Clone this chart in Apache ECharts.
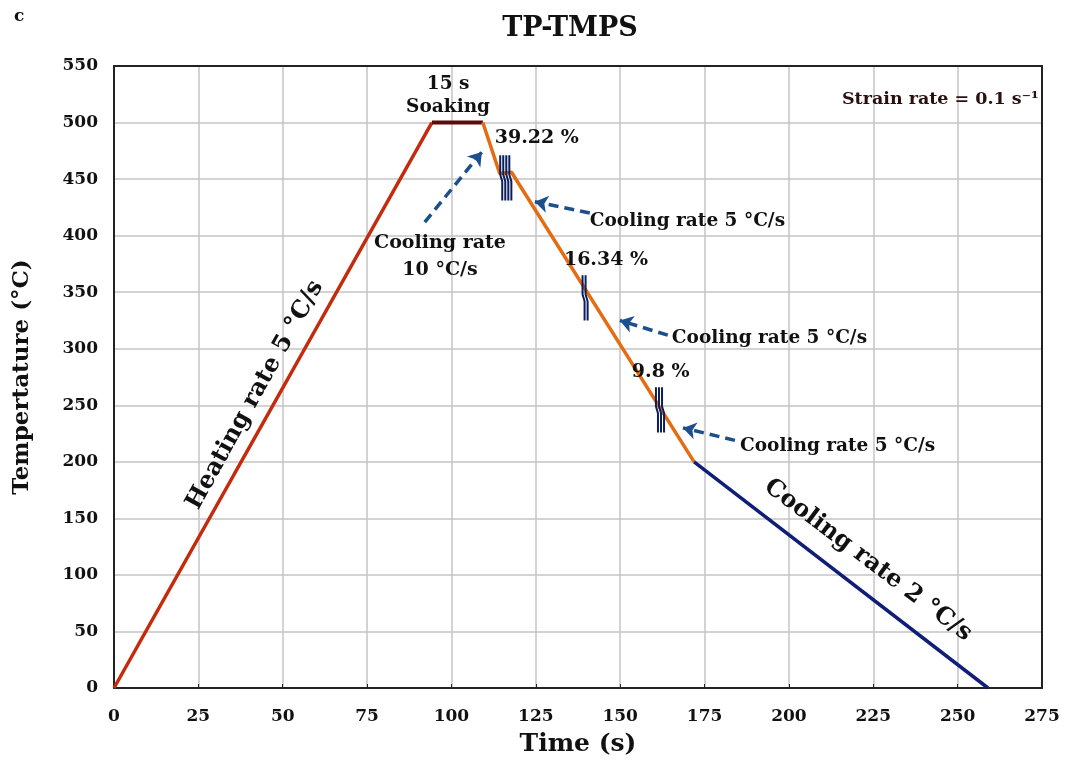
<!DOCTYPE html>
<html>
<head>
<meta charset="utf-8">
<script src="https://cdn.jsdelivr.net/npm/echarts@6/dist/echarts.min.js"></script>
<style>
html,body{margin:0;padding:0;background:#fff;}
#main{width:1070px;height:767px;}
</style>
</head>
<body>
<div id="main"></div>
<script>
// ---- data ----
var xTicks = [0,25,50,75,100,125,150,175,200,225,250,275];
var yTicks = [0,50,100,150,200,250,300,350,400,450,500,550];
var heating = [[0,0],[94.2,500]];
var soaking = [[94.2,500],[109.3,500]];
var coolingFast = [[109.3,500],[114.3,455],[117.8,456],[171.9,200]];
var coolingSlow = [[171.9,200],[259,0]];
// deformation steps: position (s, °C), number of strokes, label
var defX = [116.1, 139.6, 161.8];
var defY = [451, 345, 246];
var defStrokes = [4, 2, 3];
var defLabels = ['39.22 %', '16.34 %', '9.8 %'];
var defLabelX = [125.3, 145.8, 162];
var defLabelY = [486, 378.4, 279.4];
// arrows: tail -> head
var arrowTail = [[92.1,412],[141,420],[164.1,312],[184,219]];
var arrowHead = [[109,474],[124.7,430],[149.9,325],[168.6,230]];
// annotation texts
var noteText = ['15 s','Soaking','Cooling rate\n10 °C/s','Cooling rate 5 °C/s','Cooling rate 5 °C/s','Cooling rate 5 °C/s','Strain rate = 0.1 s\u207B\u00B9'];
var noteX = [99, 99, 96.6, 141, 165.3, 185.5, 274];
var noteY = [534, 514, 381.6, 413, 309.5, 214, 520];
var rateText = ['Heating rate 5 °C/s','Cooling rate 2 °C/s'];
var rateX = [41.8, 223.4];
var rateY = [259, 113];

var FONT = '"DejaVu Serif", Georgia, serif';
var INK = '#111111';

// build stroke paths for deformation marks
var markData = [];
for (var i=0;i<defX.length;i++){
  var n = defStrokes[i], dx = 0.9;
  for (var k=0;k<n;k++){
    var xi = defX[i] + (k-(n-1)/2)*dx - 0.3;
    markData.push([xi, defY[i]+20]);
    markData.push([xi, defY[i]+3]);
    markData.push([xi+0.6, defY[i]-3]);
    markData.push([xi+0.6, defY[i]-20]);
    markData.push(null);
  }
}
var markSeriesData = markData.map(function(p){return p===null?['-','-']:p;});

var arrowData = arrowTail.map(function(t,i){return {coords:[t, arrowHead[i]]};});

var noteAlign = ['center','center','center','left','left','left','right'];
var noteSize = [18.5,18.5,19,18.5,18.5,18.5,17.5];
var noteData = noteText.map(function(t,i){
  return {value:[noteX[i],noteY[i]], label:{formatter:t, align:noteAlign[i],
    fontSize: noteSize[i], color: i===6?'#2a0f0f':INK, lineHeight:27}};
});
var defLabelData = defLabels.map(function(t,i){
  return {value:[defLabelX[i],defLabelY[i]], label:{formatter:t}};
});
var rateData = rateText.map(function(t,i){
  return {value:[rateX[i],rateY[i]], label:{formatter:t, rotate: i===0?61:-37}};
});

var labelBase = {show:true, position:'inside', fontFamily:FONT, fontWeight:'bold', verticalAlign:'middle',
  color:INK, opacity:1, textBorderWidth:0};

var frameAxis = {axisLine:{show:true, onZero:false, lineStyle:{color:'#222', width:2}},
  axisTick:{show:false}, axisLabel:{show:false}, splitLine:{show:false}};

var chart = echarts.init(document.getElementById('main'));
chart.setOption({
  animation:false,
  backgroundColor:'#fff',
  title:[
    {text:'TP-TMPS', left:565, textAlign:'center', top:10, textStyle:{fontFamily:FONT, fontWeight:'bold', fontSize:27, color:INK}},
    {text:'c', left:9, top:3, textStyle:{fontFamily:FONT, fontWeight:'bold', fontSize:17, color:INK}}
  ],
  grid:{left:114, right:28, top:66, bottom:79, show:false},
  xAxis:[{type:'value', min:0, max:275, interval:25,
    name:'Time (s)', nameLocation:'middle', nameGap:44,
    nameTextStyle:{fontFamily:FONT, fontWeight:'bold', fontSize:25, color:INK},
    axisLine:{onZero:false, lineStyle:{color:'#222', width:2}},
    axisTick:{show:true, inside:true, length:4, lineStyle:{color:'#222'}},
    axisLabel:{fontFamily:FONT, fontWeight:'bold', fontSize:17, color:INK, margin:20,
      formatter:function(v){return xTicks.indexOf(v)>=0?String(v):'';}},
    splitLine:{lineStyle:{color:'#c4c4c4', width:1.5}}
  }, Object.assign({type:'value', position:'top', min:0, max:275}, frameAxis)],
  yAxis:[{type:'value', min:0, max:550, interval:50,
    name:'Tempertature (°C)', nameLocation:'middle', nameGap:80,
    nameTextStyle:{fontFamily:FONT, fontWeight:'bold', fontSize:23, color:INK},
    axisLine:{onZero:false, lineStyle:{color:'#222', width:2}},
    axisTick:{show:false},
    axisLabel:{fontFamily:FONT, fontWeight:'bold', fontSize:17, color:INK, margin:16,
      formatter:function(v){return yTicks.indexOf(v)>=0?String(v):'';}},
    splitLine:{lineStyle:{color:'#c4c4c4', width:1.5}}
  }, Object.assign({type:'value', position:'right', min:0, max:550}, frameAxis)],
  series:[
    {type:'line', data:heating, symbol:'none', lineStyle:{color:'#c42a0c', width:3.5}, z:3},
    {type:'line', data:soaking, symbol:'none', lineStyle:{color:'#5c0a0a', width:4}, z:3},
    {type:'line', data:coolingFast, symbol:'none', lineStyle:{color:'#e46c12', width:3.5}, z:3},
    {type:'line', data:coolingSlow, symbol:'none', lineStyle:{color:'#101e78', width:3.5}, z:3},
    {type:'line', data:markSeriesData, symbol:'none', connectNulls:false, lineStyle:{color:'#0b1f5c', width:2}, z:5},
    {type:'lines', coordinateSystem:'cartesian2d', data:arrowData, symbol:['none','arrow'], symbolSize:13,
      lineStyle:{color:'#1c4f8e', width:3.5, opacity:1, type:[10,6], curveness:0}, z:4},
    {type:'scatter', data:noteData, symbolSize:0, z:6, itemStyle:{opacity:1}, label:labelBase},
    {type:'scatter', data:defLabelData, symbolSize:0, z:6, itemStyle:{opacity:1},
      label:Object.assign({}, labelBase, {fontSize:19, align:'center'})},
    {type:'scatter', data:rateData, symbolSize:0, z:6, itemStyle:{opacity:1},
      label:Object.assign({}, labelBase, {fontSize:24, align:'center'})}
  ]
});
</script>
</body>
</html>
